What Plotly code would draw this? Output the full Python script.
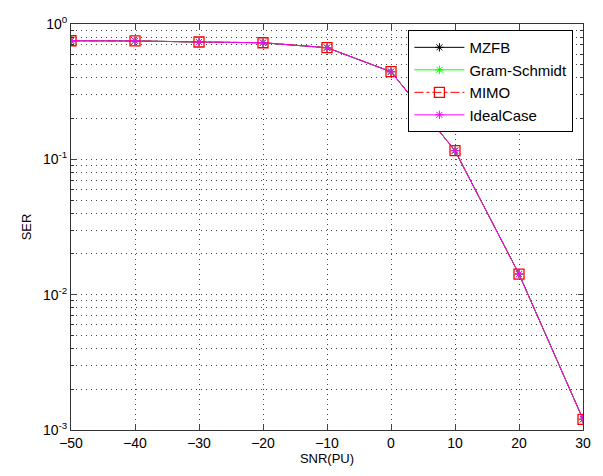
import plotly.graph_objects as go

# SNR of the primary user (dB) and symbol error rate for each beamforming scheme
snr = [-50, -40, -30, -20, -10, 0, 10, 20, 30]
ser_mzfb = [0.752, 0.750, 0.736, 0.727, 0.668, 0.444, 0.116, 0.0142, 0.00120]
ser_gram_schmidt = [0.752, 0.750, 0.736, 0.727, 0.668, 0.444, 0.116, 0.0142, 0.00120]
ser_mimo = [0.752, 0.750, 0.736, 0.727, 0.668, 0.444, 0.116, 0.0142, 0.00120]
ser_ideal = [0.752, 0.750, 0.736, 0.727, 0.668, 0.444, 0.116, 0.0142, 0.00120]

x_ticks = [-50, -40, -30, -20, -10, 0, 10, 20, 30]
y_ticks = [1e-3, 1e-2, 1e-1, 1e0]
y_tick_text = ["10<sup>-3</sup>", "10<sup>-2</sup>", "10<sup>-1</sup>", "10<sup>0</sup>"]
# log-axis minor grid at 2..9 within each decade
y_minor = [m * 10.0 ** e for e in (-3, -2, -1) for m in range(2, 10)]

fig = go.Figure()
fig.add_trace(go.Scatter(
    x=snr, y=ser_mzfb, name="MZFB", mode="lines+markers",
    line=dict(color="black", width=1),
    marker=dict(symbol="asterisk-open", size=7, color="black", line=dict(width=1, color="black")),
))
fig.add_trace(go.Scatter(
    x=snr, y=ser_gram_schmidt, name="Gram-Schmidt", mode="lines+markers",
    line=dict(color="#00ff00", width=1),
    marker=dict(symbol="asterisk-open", size=7, color="#00ff00", line=dict(width=1, color="#00ff00")),
))
fig.add_trace(go.Scatter(
    x=snr, y=ser_mimo, name="MIMO", mode="lines+markers",
    line=dict(color="red", width=1, dash="dashdot"),
    marker=dict(symbol="square-open", size=10, color="red", line=dict(width=1.3, color="red")),
))
fig.add_trace(go.Scatter(
    x=snr, y=ser_ideal, name="IdealCase", mode="lines+markers",
    line=dict(color="#ff00ff", width=1),
    marker=dict(symbol="asterisk-open", size=7, color="#ff00ff", line=dict(width=1, color="#ff00ff")),
))

grid_color = "#444444"
dot = "1px,4px"
fig.update_xaxes(
    title=dict(text="SNR(PU)", standoff=2, font=dict(size=13)),
    range=[-50, 30], tickvals=x_ticks, ticks="inside", ticklen=5,
    showline=True, linecolor="#333333", linewidth=1, mirror="ticks",
    showgrid=True, gridcolor=grid_color, griddash=dot, gridwidth=1,
    zeroline=False, tickfont=dict(size=14, color="black"),
)
fig.update_yaxes(
    title=dict(text="SER", standoff=8, font=dict(size=13)),
    type="log", range=[-3, 0], tickvals=y_ticks, ticktext=y_tick_text,
    ticks="inside", ticklen=5,
    showline=True, linecolor="#333333", linewidth=1, mirror="ticks",
    showgrid=True, gridcolor=grid_color, griddash=dot, gridwidth=1,
    zeroline=False, tickfont=dict(size=14, color="black"),
    minor=dict(tickmode="array", tickvals=y_minor, showgrid=True,
               gridcolor=grid_color, griddash=dot, gridwidth=1,
               ticks="inside", ticklen=3, tickcolor="#333333"),
)
fig.update_layout(
    width=603, height=476,
    margin=dict(l=71, r=16, t=24, b=46),
    paper_bgcolor="white", plot_bgcolor="white",
    font=dict(family="Liberation Sans, Arial, sans-serif", size=13, color="black"),
    showlegend=True,
    legend=dict(
        x=0.659, y=0.985, xanchor="left", yanchor="top",
        bgcolor="white", bordercolor="black", borderwidth=1,
        font=dict(size=15), tracegroupgap=0, itemwidth=50,
    ),
)

fig.write_html("out.html")
